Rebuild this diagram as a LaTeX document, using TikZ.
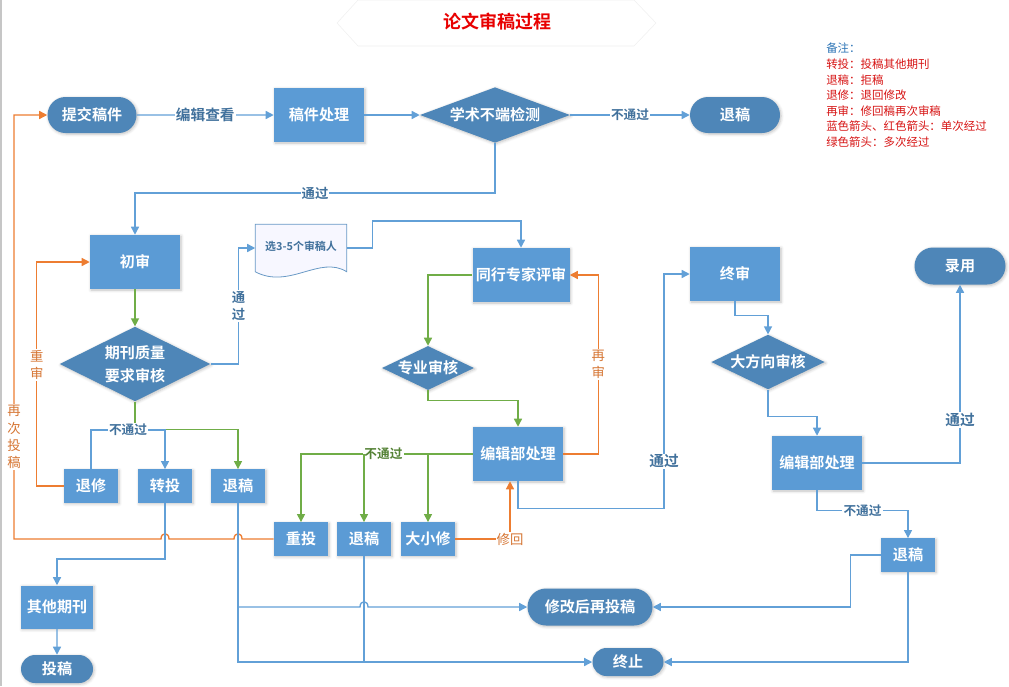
\documentclass[tikz,border=0pt]{standalone}
\usepackage{fontspec}
\setmainfont{Noto Sans CJK SC}[BoldFont={* Bold}]
\usetikzlibrary{arrows.meta, positioning, shapes.geometric, shapes.misc, shadows.blur, calc}

\definecolor{termblue}{RGB}{78,134,184}
\definecolor{boxblue}{RGB}{91,155,213}
\definecolor{lineblue}{RGB}{98,160,215}
\definecolor{flowgreen}{RGB}{112,173,71}
\definecolor{floworange}{RGB}{237,125,49}
\definecolor{lblblue}{RGB}{65,113,156}
\definecolor{lblgreen}{RGB}{84,130,53}
\definecolor{lblorange}{RGB}{214,118,52}
\definecolor{titlered}{RGB}{232,0,0}
\definecolor{notered}{RGB}{214,20,20}
\definecolor{noteblue}{RGB}{46,117,182}

\tikzset{
	base/.style={text=white, inner sep=0pt, font=\fontsize{11.3pt}{14pt}\selectfont\bfseries,
		blur shadow={shadow blur steps=5, shadow xshift=0.8pt, shadow yshift=-0.8pt, shadow opacity=25}},
	term/.style={base, fill=termblue, rounded rectangle, minimum height=27pt},
	proc/.style={base, fill=boxblue, minimum width=67.5pt, minimum height=40.5pt},
	sbox/.style={base, fill=boxblue, minimum width=40.5pt, minimum height=25pt},
	chk/.style={base, fill=termblue, diamond, aspect=2.2},
	bline/.style={draw=lineblue, line width=1pt},
	gline/.style={draw=flowgreen, line width=1pt},
	oline/.style={draw=floworange, line width=1pt},
	tip/.style={-{Triangle[length=6pt,width=6pt]}},
	lbl/.style={fill=white, inner sep=0.8pt, text=lblblue, font=\fontsize{9.5pt}{11pt}\selectfont\bfseries},
	biglbl/.style={lbl, font=\fontsize{11pt}{13pt}\selectfont\bfseries},
	vlbl/.style={lbl, align=center, font=\fontsize{10pt}{13pt}\selectfont\bfseries},
	glbl/.style={lbl, text=lblgreen},
	olbl/.style={lbl, text=lblorange, align=center, font=\fontsize{10pt}{13pt}\selectfont},
}

\begin{document}
\begin{tikzpicture}[x=0.75pt, y=-0.75pt]
	\useasboundingbox (0,0) rectangle (1009,686);
	\draw[gray!45, line width=1.2pt] (0.8,0) -- (0.8,686);

	% title and notes
	\draw[gray!12, fill=white] (337,23) -- (358,0) -- (634,0) -- (656,23) -- (634,46) -- (358,46) -- cycle;
	\node[text=titlered, font=\fontsize{13.5pt}{16pt}\selectfont\bfseries] (title) at (497,22) {论文审稿过程};
	\node[anchor=north west, align=left, inner sep=0pt, text=notered, font=\fontsize{8.6pt}{11.7pt}\selectfont] (note) at (826,43)
		{\textcolor{noteblue}{备注：}\\转投：投稿其他期刊\\退稿：拒稿\\退修：退回修改\\再审：修回稿再次审稿\\蓝色箭头、红色箭头：单次经过\\绿色箭头：多次经过};

	% nodes
	\node[term, minimum width=66.75pt] (submit) at (92,115) {提交稿件};
	\node[proc] (handle) at (319,115) {稿件处理};
	\node[chk, minimum width=112.5pt, minimum height=40.5pt] (check) at (495,115) {学术不端检测};
	\node[term, minimum width=67.5pt] (rejA) at (735,115) {退稿};
	\node[proc] (first) at (135,262) {初审};
	\node[inner sep=0pt, minimum width=68.25pt, minimum height=35.25pt] (doc) at (301,248) {};
	\node[chk, align=center, minimum width=113pt, minimum height=56pt, font=\fontsize{11.3pt}{17pt}\selectfont\bfseries] (quality) at (135,364) {期刊质量\\要求审核};
	\node[proc, minimum width=72.75pt] (peer) at (521,275) {同行专家评审};
	\node[chk, minimum width=67.5pt, minimum height=33pt] (prof) at (428,368) {专业审核};
	\node[proc] (editA) at (518,454) {编辑部处理};
	\node[proc] (final) at (735,274) {终审};
	\node[chk, minimum width=85pt, minimum height=41pt] (dir) at (768,362) {大方向审核};
	\node[proc] (editB) at (817,463) {编辑部处理};
	\node[term, minimum width=68.25pt, minimum height=27.75pt] (accept) at (960,266) {录用};
	\node[sbox] (revise) at (91,486) {退修};
	\node[sbox] (transfer) at (165,486) {转投};
	\node[sbox] (rejB) at (238,486) {退稿};
	\node[sbox] (resub) at (301,539) {重投};
	\node[sbox] (rejC) at (364,539) {退稿};
	\node[sbox] (minor) at (428,539) {大小修};
	\node[base, fill=boxblue, minimum width=54pt, minimum height=32.25pt] (other) at (57,607) {其他期刊};
	\node[term, minimum width=54pt, minimum height=21pt] (post) at (57,669) {投稿};
	\node[term, minimum width=93.75pt, minimum height=27.75pt] (again) at (590,607) {修改后再投稿};
	\node[term, minimum width=53.25pt, minimum height=21pt] (stop) at (628,662) {终止};
	\node[sbox] (rejD) at (908,555) {退稿};

	% document shape
	\filldraw[draw=lineblue!80!gray, fill=blue!3, line width=0.6pt] (doc.north west) -- (doc.north east) -- (doc.south east)
		.. controls ($(doc.south east)+(-27,-17)$) and ($(doc.south west)+(34,18)$) .. (doc.south west) -- cycle;
	\node[text=lblblue, font=\fontsize{8.2pt}{10pt}\selectfont\bfseries] (doctext) at (301,246) {选3-5个审稿人};

	% top row
	\draw[bline, tip] (submit) -- node[biglbl]{编辑查看} (handle);
	\draw[bline, tip] (handle) -- (check);
	\draw[bline, tip] (check) -- node[lbl]{不通过} (rejA);
	\draw[bline, tip] (check.south) -- ++(0,50) -| node[lbl, pos=0.25, font=\fontsize{10pt}{12pt}\selectfont\bfseries]{通过} (first.north);

	% first review
	\draw[gline, tip] (first) -- (quality);
	\draw[bline, tip] (quality.east) -- ++(28,0) |- node[vlbl, pos=0.25]{通\\过} (doc.west);
	\draw[gline, tip] (quality.south) -- ++(0,28) -| (rejB.north);
	\draw[bline, tip] (revise.north) -- ++(0,-39) -| node[lbl, pos=0.25]{不通过} (transfer.north);
	\draw[oline, tip] (revise.west) -- ++(-27,0) |- node[olbl, pos=0.27]{重\\审} (first.west);
	\draw[oline, tip] (resub.west) -- (242,539) .. controls (242,532) and (234,532) .. (234,539) -- (169,539)
		.. controls (169,532) and (161,532) .. (161,539) -- (14,539) |- node[olbl, pos=0.12]{再\\次\\投\\稿} (submit.west);
	\draw[bline, tip] (transfer.south) -- ++(0,56) -| (other.north);
	\draw[bline, tip] (other) -- (post);

	% peer review
	\draw[bline, tip] (doc.east) -- ++(26,0) -- ++(0,-27) -| (peer.north);
	\draw[gline, tip] (peer.west) -| (prof.north);
	\draw[gline, tip] (prof.south) -- ++(0,10) -| (editA.north);
	\draw[oline, tip] (editA.east) -- ++(35,0) |- node[olbl, pos=0.25]{再\\审} (peer.east);
	\draw[gline, tip] (editA.west) -| node[glbl, pos=0.26]{不通过} (resub.north);
	\draw[gline, tip] (editA.west -| rejC.north) -- (rejC.north);
	\draw[gline, tip] (editA.west -| minor.north) -- (minor.north);
	\draw[oline, tip] (minor.east) -| node[olbl, pos=0.5]{修回} ($(editA.south)+(-8,0)$);
	\draw[bline, tip] (editA.south) -- ++(0,27) -- ++(146,0) |- node[biglbl, pos=0.1]{通过} (final.west);

	% final review
	\draw[bline, tip] (final.south) -- ++(0,14) -| (dir.north);
	\draw[bline, tip] (dir.south) -- ++(0,27) -| (editB.north);
	\draw[bline, tip] (editB.east) -| node[biglbl, pos=0.62]{通过} (accept.south);
	\draw[bline, tip] (editB.south) -- ++(0,20) -| node[lbl, pos=0.25]{不通过} (rejD.north);
	\draw[bline, tip] (rejD.west) -- ++(-30,0) |- (again.east);
	\draw[bline, tip] (rejD.south) |- (stop.east);

	% rejected papers
	\draw[bline, tip] (rejB.south) -- (238,607) -- (360,607) .. controls (360,600) and (368,600) .. (368,607) -- (again.west);
	\draw[bline, tip] (rejB.south) |- (stop.west);
	\draw[bline] (rejC.south) -- (rejC.south |- stop.west);
\end{tikzpicture}
\end{document}
